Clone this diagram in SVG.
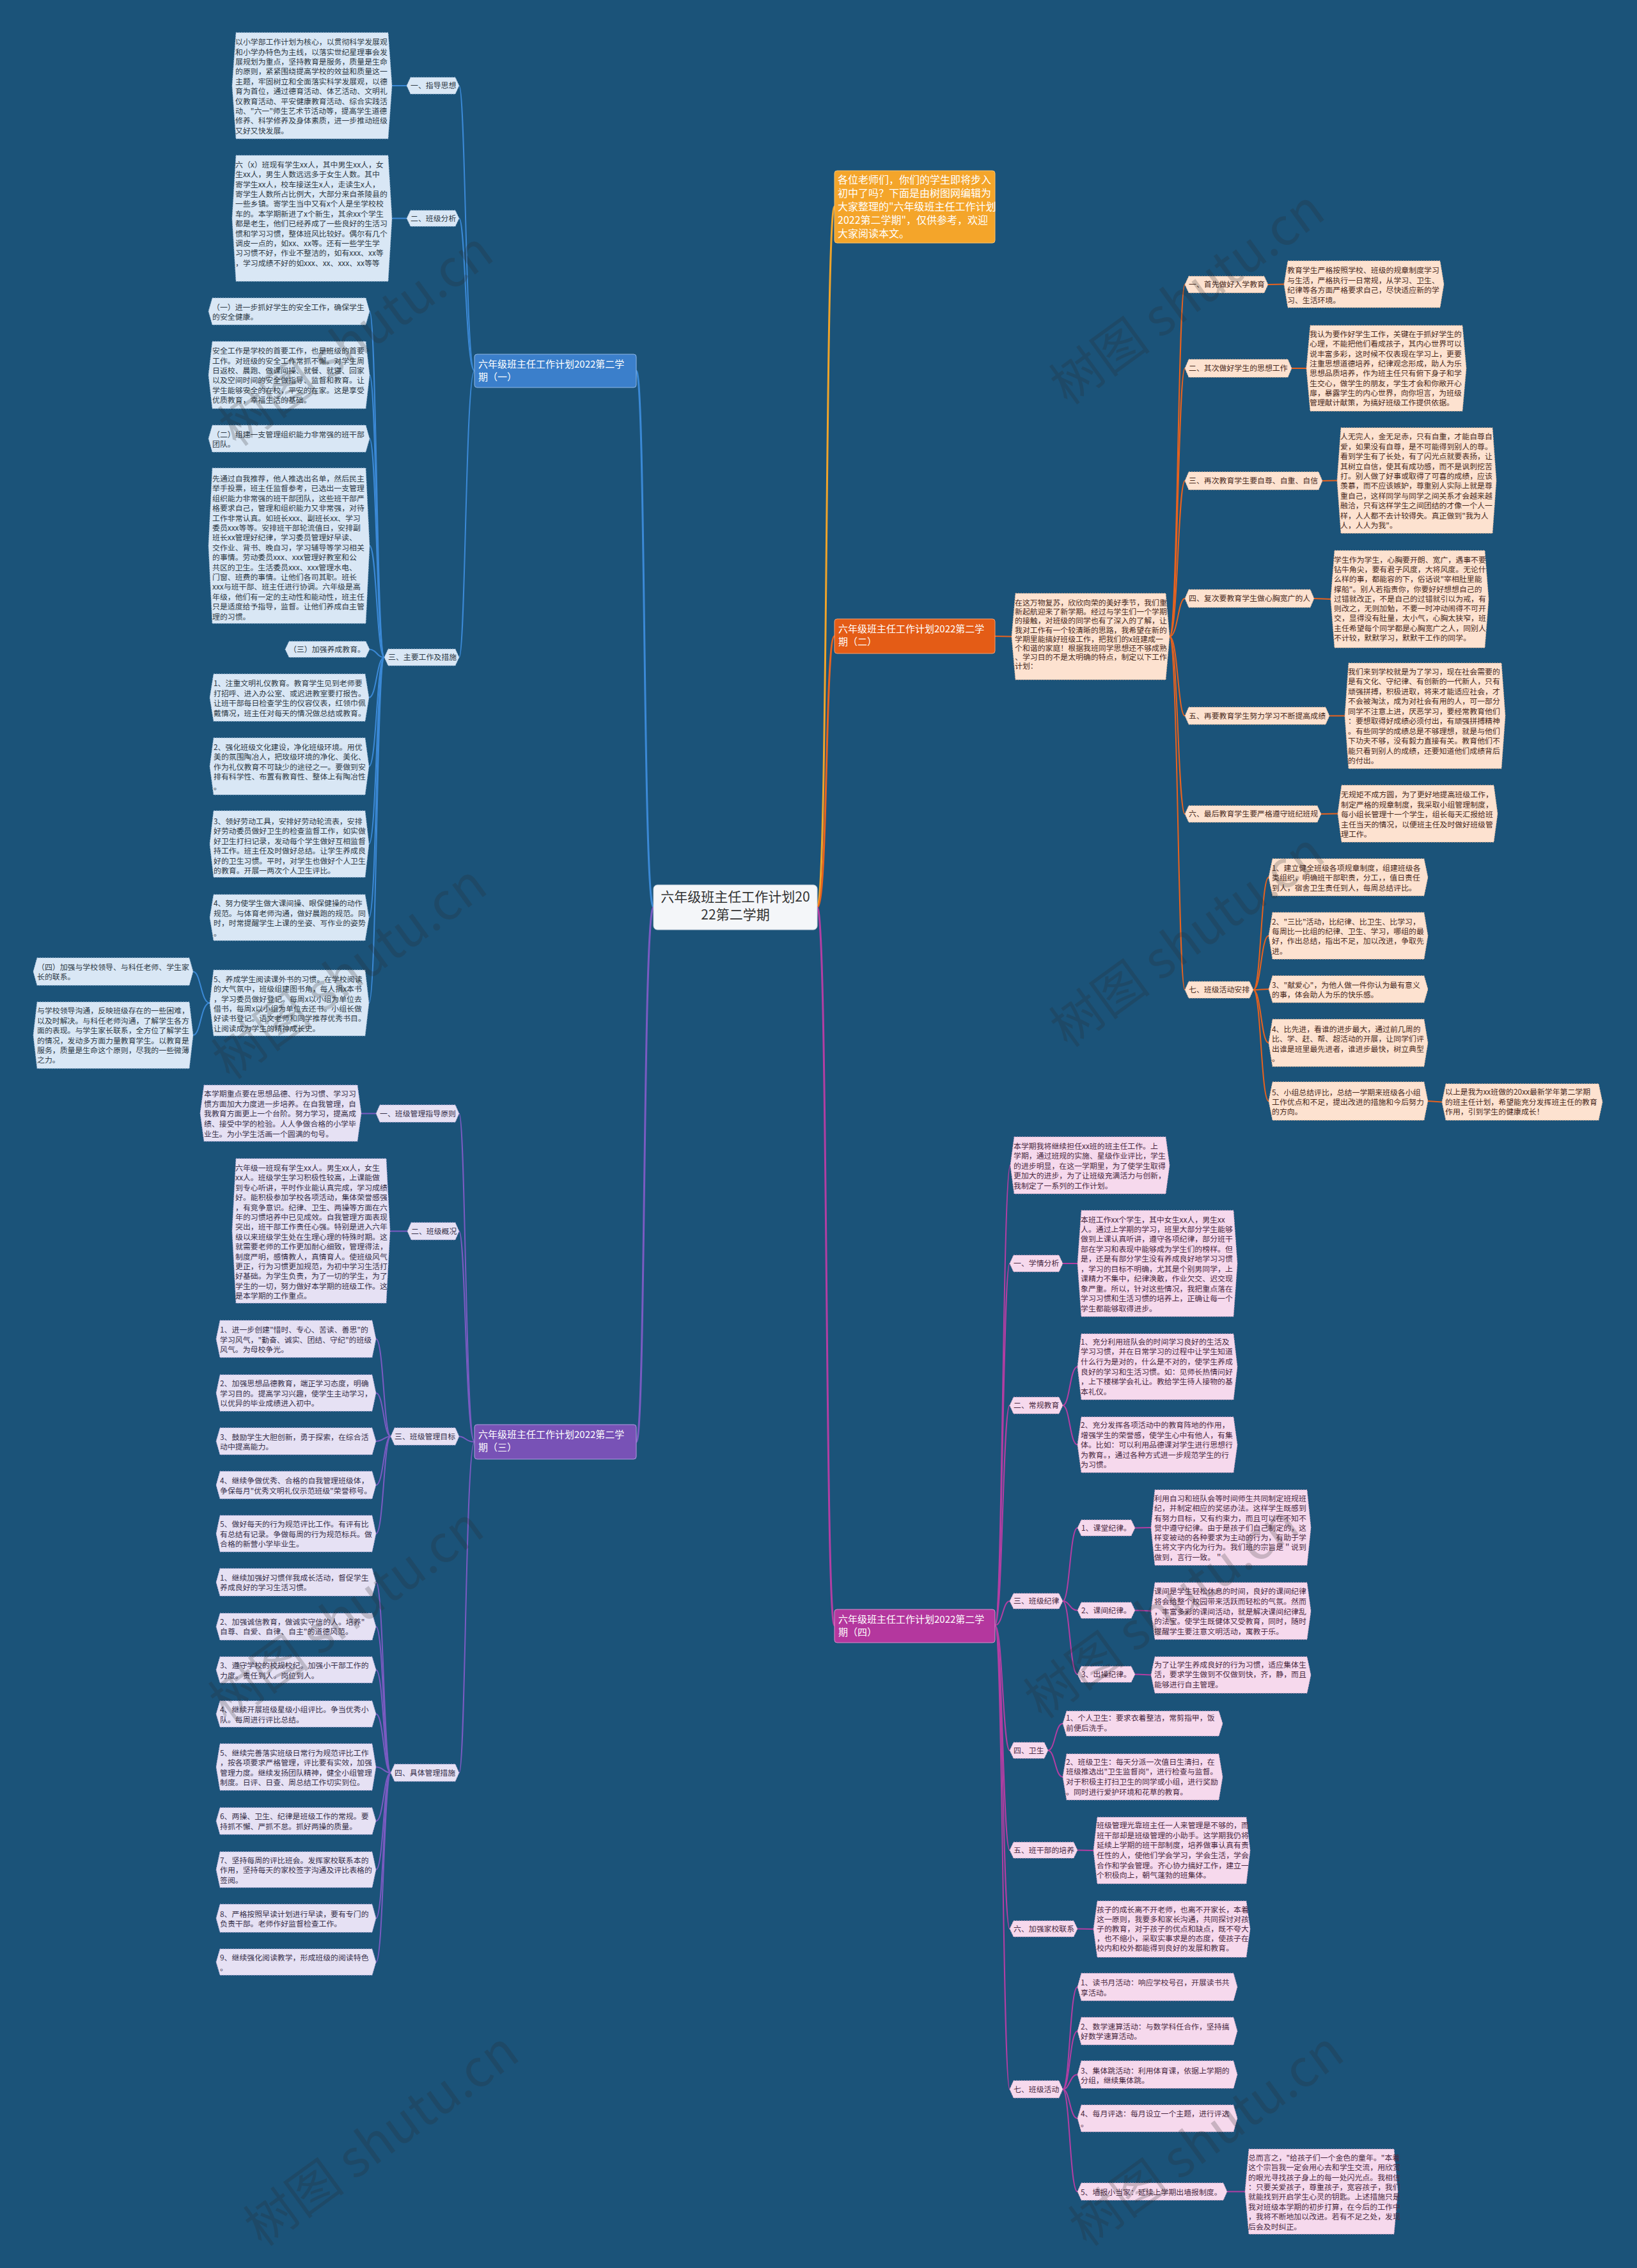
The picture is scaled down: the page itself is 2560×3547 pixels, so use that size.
<svg xmlns="http://www.w3.org/2000/svg" width="2560" height="3547" viewBox="0 0 2560 3547">
<style>
text{font-family:"Noto Sans CJK SC","Noto Sans",sans-serif;font-size:11.9px}
.tb{fill:#2e3a46}.to{fill:#4a2a1c}.tp{fill:#37304a}.tk{fill:#4a2a42}
.nb{fill:#d9e7f5;stroke:#9fb9d4;stroke-width:1;stroke-dasharray:2 2}
.no{fill:#fde2d0;stroke:#e8b79a;stroke-width:1;stroke-dasharray:2 2}
.np{fill:#e6e1f4;stroke:#b3a8d6;stroke-width:1;stroke-dasharray:2 2}
.nk{fill:#f6d9ed;stroke:#d5a5c6;stroke-width:1;stroke-dasharray:2 2}
.cb{fill:none;stroke:#3b89d6;stroke-width:2}
.co{fill:none;stroke:#e8621e;stroke-width:2}
.cp{fill:none;stroke:#7a5bc2;stroke-width:2}
.ck{fill:none;stroke:#b33ea3;stroke-width:2}
.main{font-size:15px;fill:#ffffff}
.wm{font-size:80px;fill:#2a2a2a;opacity:0.22;font-family:"Noto Sans CJK SC","Noto Sans",sans-serif}
</style>
<rect x="0" y="0" width="2560" height="3547" fill="#1b5379"/>

<g id="connectors">
<path d="M1278,1419 C1295,1419 1290,323 1305,323" fill="none" stroke="#f0a42a" stroke-width="3"/>
<path d="M1278,1419 C1295,1419 1290,995 1305,995" fill="none" stroke="#e8621e" stroke-width="3"/>
<path d="M1278,1419 C1295,1419 1290,2542 1305,2542" fill="none" stroke="#b33ea3" stroke-width="3"/>
<path d="M1022,1419 C1005,1419 1010,580 995,580" fill="none" stroke="#3b89d6" stroke-width="3"/>
<path d="M1022,1419 C1005,1419 1010,2255 995,2255" fill="none" stroke="#7a5bc2" stroke-width="3"/>

<path class="cb" d="M742,580 C728,580 728,134 718,134"/>
<path class="cb" d="M742,580 C728,580 728,341.5 718,341.5"/>
<path class="cb" d="M742,580 C728,580 728,1028 718,1028"/>
<path class="cb" d="M636,134 L613,134"/>
<path class="cb" d="M636,341.5 L613,341.5"/>
<path class="cb" d="M601,1028 C589,1028 589,487 578,487"/>
<path class="cb" d="M601,1028 C589,1028 589,586.5 578,586.5"/>
<path class="cb" d="M601,1028 C589,1028 589,686 578,686"/>
<path class="cb" d="M601,1028 C589,1028 589,853.5 578,853.5"/>
<path class="cb" d="M601,1028 C589,1028 589,1015.5 578,1015.5"/>
<path class="cb" d="M601,1028 C589,1028 589,1091 577,1091"/>
<path class="cb" d="M601,1028 C589,1028 589,1198.5 577,1198.5"/>
<path class="cb" d="M601,1028 C589,1028 589,1320 577,1320"/>
<path class="cb" d="M601,1028 C589,1028 589,1435 577,1435"/>
<path class="cb" d="M601,1028 C589,1028 589,1568.5 577,1568.5"/>
<path class="cb" d="M328,1568.5 C314,1568.5 314,1519.5 302,1519.5"/>
<path class="cb" d="M328,1568.5 C314,1568.5 314,1619 302,1619"/>

<path class="cp" d="M742,2255 C728,2255 728,1741.5 718,1741.5"/>
<path class="cp" d="M742,2255 C728,2255 728,1925.5 718,1925.5"/>
<path class="cp" d="M742,2255 C728,2255 728,2246.5 718,2246.5"/>
<path class="cp" d="M742,2255 C728,2255 728,2772.5 718,2772.5"/>
<path class="cp" d="M588,1741.5 L565,1741.5"/>
<path class="cp" d="M637,1925.5 L610,1925.5"/>
<path class="cp" d="M611,2246.5 C600,2246.5 600,2094 588,2094"/>
<path class="cp" d="M611,2246.5 C600,2246.5 600,2178.5 588,2178.5"/>
<path class="cp" d="M611,2246.5 C600,2246.5 600,2254 588,2254"/>
<path class="cp" d="M611,2246.5 C600,2246.5 600,2322.5 588,2322.5"/>
<path class="cp" d="M611,2246.5 C600,2246.5 600,2398.5 588,2398.5"/>
<path class="cp" d="M611,2772.5 C600,2772.5 600,2474.5 588,2474.5"/>
<path class="cp" d="M611,2772.5 C600,2772.5 600,2544 588,2544"/>
<path class="cp" d="M611,2772.5 C600,2772.5 600,2611.5 588,2611.5"/>
<path class="cp" d="M611,2772.5 C600,2772.5 600,2680.5 588,2680.5"/>
<path class="cp" d="M611,2772.5 C600,2772.5 600,2763.5 588,2763.5"/>
<path class="cp" d="M611,2772.5 C600,2772.5 600,2848 588,2848"/>
<path class="cp" d="M611,2772.5 C600,2772.5 600,2924 588,2924"/>
<path class="cp" d="M611,2772.5 C600,2772.5 600,3000 588,3000"/>
<path class="cp" d="M611,2772.5 C600,2772.5 600,3068.5 588,3068.5"/>

<path class="co" d="M1556,995 L1582,995.5"/>
<path class="co" d="M1829,995.5 C1842,995.5 1842,445 1853,445"/>
<path class="co" d="M1829,995.5 C1842,995.5 1842,576 1853,576"/>
<path class="co" d="M1829,995.5 C1842,995.5 1842,752 1853,752"/>
<path class="co" d="M1829,995.5 C1842,995.5 1842,936 1853,936"/>
<path class="co" d="M1829,995.5 C1842,995.5 1842,1119.5 1853,1119.5"/>
<path class="co" d="M1829,995.5 C1842,995.5 1842,1273 1853,1273"/>
<path class="co" d="M1829,995.5 C1842,995.5 1842,1548 1853,1548"/>
<path class="co" d="M1983,445 L2008,444.5"/>
<path class="co" d="M2020,576 L2043,576"/>
<path class="co" d="M2068,752 L2091,751.5"/>
<path class="co" d="M2055,936 L2081,937"/>
<path class="co" d="M2079,1119.5 L2103,1119.5"/>
<path class="co" d="M2066,1273 L2092,1272.5"/>
<path class="co" d="M1960,1548 C1972,1548 1972,1372 1984,1372"/>
<path class="co" d="M1960,1548 C1972,1548 1972,1463.5 1984,1463.5"/>
<path class="co" d="M1960,1548 C1972,1548 1972,1547 1984,1547"/>
<path class="co" d="M1960,1548 C1972,1548 1972,1631 1984,1631"/>
<path class="co" d="M1960,1548 C1972,1548 1972,1722 1984,1722"/>
<path class="co" d="M2233,1722 L2255,1723.5"/>

<path class="ck" d="M1556,2542 C1568,2542 1568,1822.5 1580,1822.5"/>
<path class="ck" d="M1556,2542 C1568,2542 1568,1976 1579,1976"/>
<path class="ck" d="M1556,2542 C1568,2542 1568,2198 1579,2198"/>
<path class="ck" d="M1556,2542 C1568,2542 1568,2504 1579,2504"/>
<path class="ck" d="M1556,2542 C1568,2542 1568,2737.5 1579,2737.5"/>
<path class="ck" d="M1556,2542 C1568,2542 1568,2893.5 1579,2893.5"/>
<path class="ck" d="M1556,2542 C1568,2542 1568,3016.5 1579,3016.5"/>
<path class="ck" d="M1556,2542 C1568,2542 1568,3267.5 1579,3267.5"/>
<path class="ck" d="M1662,1976 L1685,1976"/>
<path class="ck" d="M1662,2198 C1673,2198 1673,2137.5 1685,2137.5"/>
<path class="ck" d="M1662,2198 C1673,2198 1673,2259.5 1685,2259.5"/>
<path class="ck" d="M1662,2504 C1673,2504 1673,2389.5 1685,2389.5"/>
<path class="ck" d="M1662,2504 C1673,2504 1673,2518.5 1685,2518.5"/>
<path class="ck" d="M1662,2504 C1673,2504 1673,2618.5 1685,2618.5"/>
<path class="ck" d="M1775,2389.5 L1800,2389"/>
<path class="ck" d="M1775,2518.5 L1800,2519.5"/>
<path class="ck" d="M1775,2618.5 L1800,2619.5"/>
<path class="ck" d="M1639,2737.5 C1650,2737.5 1650,2695.5 1662,2695.5"/>
<path class="ck" d="M1639,2737.5 C1650,2737.5 1650,2779 1662,2779"/>
<path class="ck" d="M1685,2893.5 L1710,2894"/>
<path class="ck" d="M1685,3016.5 L1710,3017"/>
<path class="ck" d="M1662,3267.5 C1673,3267.5 1673,3107.5 1685,3107.5"/>
<path class="ck" d="M1662,3267.5 C1673,3267.5 1673,3176.5 1685,3176.5"/>
<path class="ck" d="M1662,3267.5 C1673,3267.5 1673,3244.5 1685,3244.5"/>
<path class="ck" d="M1662,3267.5 C1673,3267.5 1673,3313 1685,3313"/>
<path class="ck" d="M1662,3267.5 C1673,3267.5 1673,3427.5 1685,3427.5"/>
<path class="ck" d="M1919,3427.5 L1947,3427.5"/>
</g>

<g id="center">
<rect x="1022" y="1384" width="256" height="70" rx="6" fill="#f4f6f9" stroke="#c9d3de" stroke-width="1"/>
<text x="1150" y="1410" text-anchor="middle" style="font-size:21px;fill:#333">六年级班主任工作计划20</text>
<text x="1150" y="1438" text-anchor="middle" style="font-size:21px;fill:#333">22第二学期</text>
</g>

<g id="intro">
<rect x="1305" y="267" width="251" height="113" rx="4" fill="#f4a52a" stroke="#f8c26e" stroke-width="1"/>
<text style="font-size:16px;fill:#ffffff" y="287"><tspan x="1310">各位老师们，你们的学生即将步入</tspan><tspan x="1310" dy="21">初中了吗？下面是由树图网编辑为</tspan><tspan x="1310" dy="21">大家整理的"六年级班主任工作计划</tspan><tspan x="1310" dy="21">2022第二学期"，仅供参考，欢迎</tspan><tspan x="1310" dy="21">大家阅读本文。</tspan></text>
</g>

<g id="b1">
<rect x="742" y="554" width="253" height="52" rx="4" fill="#3b7fcb" stroke="#8fb8e6" stroke-width="1"/>
<text class="main" y="575"><tspan x="748">六年级班主任工作计划2022第二学</tspan><tspan x="748" dy="20">期（一）</tspan></text>
</g>
<g id="b1-1">
<polygon class="nb" points="642,121 712,121 718,134 712,147 642,147 636,134"/>
<text class="tb" x="642" y="138.4">一、指导思想</text>
</g>
<g id="b1-1-t">
<polygon class="nb" points="369,51 607,51 613,134 607,217 369,217 363,134"/>
<text class="tb" y="70.1"><tspan x="368">以小学部工作计划为核心，以贯彻科学发展观</tspan><tspan x="368" dy="15.4">和小学办特色为主线，以落实世纪星理事会发</tspan><tspan x="368" dy="15.4">展规划为重点，坚持教育是服务，质量是生命</tspan><tspan x="368" dy="15.4">的原则，紧紧围绕提高学校的效益和质量这一</tspan><tspan x="368" dy="15.4">主题，牢固树立和全面落实科学发展观，以德</tspan><tspan x="368" dy="15.4">育为首位，通过德育活动、体艺活动、文明礼</tspan><tspan x="368" dy="15.4">仪教育活动、平安健康教育活动、综合实践活</tspan><tspan x="368" dy="15.4">动、"六一"师生艺术节活动等，提高学生道德</tspan><tspan x="368" dy="15.4">修养、科学修养及身体素质，进一步推动班级</tspan><tspan x="368" dy="15.4">又好又快发展。</tspan></text>
</g>
<g id="b1-2">
<polygon class="nb" points="642,329 712,329 718,341.5 712,354 642,354 636,341.5"/>
<text class="tb" x="642" y="345.9">二、班级分析</text>
</g>
<g id="b1-2-t">
<polygon class="nb" points="369,243 607,243 613,341.5 607,440 369,440 363,341.5"/>
<text class="tb" y="261.7"><tspan x="368">六（x）班现有学生xx人，其中男生xx人，女</tspan><tspan x="368" dy="15.4">生xx人，男生人数远远多于女生人数。其中</tspan><tspan x="368" dy="15.4">寄学生xx人，校车接送生x人，走读生x人，</tspan><tspan x="368" dy="15.4">寄学生人数所占比例大，大部分来自茶陵县的</tspan><tspan x="368" dy="15.4">一些乡镇。寄学生当中又有x个人是坐学校校</tspan><tspan x="368" dy="15.4">车的。本学期新进了x个新生，其余xx个学生</tspan><tspan x="368" dy="15.4">都是老生，他们已经养成了一些良好的生活习</tspan><tspan x="368" dy="15.4">惯和学习习惯，整体班风比较好。偶尔有几个</tspan><tspan x="368" dy="15.4">调皮一点的，如xx、xx等。还有一些学生学</tspan><tspan x="368" dy="15.4">习习惯不好，作业不整洁的，如有xxx、xx等</tspan><tspan x="368" dy="15.4">，学习成绩不好的如xxx、xx、xxx、xx等等</tspan></text>
</g>
<g id="b1-3">
<polygon class="nb" points="607,1015 712,1015 718,1028 712,1041 607,1041 601,1028"/>
<text class="tb" x="607" y="1032.4">三、主要工作及措施</text>
</g>
<g id="b1-3-1">
<polygon class="nb" points="332,466 572,466 578,487 572,508 332,508 326,487"/>
<text class="tb" y="484.6"><tspan x="332">（一）进一步抓好学生的安全工作，确保学生</tspan><tspan x="332" dy="15.4">的安全健康。</tspan></text>
</g>
<g id="b1-3-2">
<polygon class="nb" points="332,534 572,534 578,586.5 572,639 332,639 326,586.5"/>
<text class="tb" y="553.4"><tspan x="332">安全工作是学校的首要工作，也是班级的首要</tspan><tspan x="332" dy="15.35">工作。对班级的安全工作常抓不懈。对学生周</tspan><tspan x="332" dy="15.35">日返校、晨跑、做课间操、就餐、就寝、回家</tspan><tspan x="332" dy="15.35">以及空间时间的安全做指导、监督和教育。让</tspan><tspan x="332" dy="15.35">学生能够安全的在校，平安的在家。这是享受</tspan><tspan x="332" dy="15.35">优质教育，幸福生活的基础。</tspan></text>
</g>
<g id="b1-3-3">
<polygon class="nb" points="332,665 572,665 578,686 572,707 332,707 326,686"/>
<text class="tb" y="684"><tspan x="332">（二）组建一支管理组织能力非常强的班干部</tspan><tspan x="332" dy="15.2">团队。</tspan></text>
</g>
<g id="b1-3-4">
<polygon class="nb" points="332,732 572,732 578,853.5 572,975 332,975 326,853.5"/>
<text class="tb" y="752.9"><tspan x="332">先通过自我推荐，他人推选出名单，然后民主</tspan><tspan x="332" dy="15.4">举手投票，班主任监督参考，已选出一支管理</tspan><tspan x="332" dy="15.4">组织能力非常强的班干部团队，这些班干部严</tspan><tspan x="332" dy="15.4">格要求自己，管理和组织能力又非常强，对待</tspan><tspan x="332" dy="15.4">工作非常认真。如班长xxx、副班长xx、学习</tspan><tspan x="332" dy="15.4">委员xxx等等。安排班干部轮流值日，安排副</tspan><tspan x="332" dy="15.4">班长xx管理好纪律，学习委员管理好早读、</tspan><tspan x="332" dy="15.4">交作业、背书、晚自习，学习辅导等学习相关</tspan><tspan x="332" dy="15.4">的事情。劳动委员xxx、xxx管理好教室和公</tspan><tspan x="332" dy="15.4">共区的卫生。生活委员xxx、xxx管理水电、</tspan><tspan x="332" dy="15.4">门窗、班费的事情。让他们各司其职。班长</tspan><tspan x="332" dy="15.4">xxx与班干部、班主任进行协调。六年级是高</tspan><tspan x="332" dy="15.4">年级，他们有一定的主动性和能动性，班主任</tspan><tspan x="332" dy="15.4">只是适度给予指导，监督。让他们养成自主管</tspan><tspan x="332" dy="15.4">理的习惯。</tspan></text>
</g>
<g id="b1-3-5">
<polygon class="nb" points="452,1003 572,1003 578,1015.5 572,1028 452,1028 446,1015.5"/>
<text class="tb" x="452" y="1019.9">（三）加强养成教育。</text>
</g>
<g id="b1-3-6">
<polygon class="nb" points="334,1054 571,1054 577,1091 571,1128 334,1128 328,1091"/>
<text class="tb" y="1073.4"><tspan x="334">1、注重文明礼仪教育。教育学生见到老师要</tspan><tspan x="334" dy="15.4">打招呼、进入办公室、或迟进教室要打报告。</tspan><tspan x="334" dy="15.4">让班干部每日检查学生的仪容仪表，红领巾佩</tspan><tspan x="334" dy="15.4">戴情况，班主任对每天的情况做总结或教育。</tspan></text>
</g>
<g id="b1-3-7">
<polygon class="nb" points="334,1154 571,1154 577,1198.5 571,1243 334,1243 328,1198.5"/>
<text class="tb" y="1172.9"><tspan x="334">2、强化班级文化建设，净化班级环境。用优</tspan><tspan x="334" dy="15.4">美的氛围陶冶人，把玫级环境的净化、美化、</tspan><tspan x="334" dy="15.4">作为礼仪教育不可缺少的途径之一。要做到安</tspan><tspan x="334" dy="15.4">排有科学性、布置有教育性、整体上有陶冶性</tspan><tspan x="334" dy="15.4">。</tspan></text>
</g>
<g id="b1-3-8">
<polygon class="nb" points="334,1268 571,1268 577,1320 571,1372 334,1372 328,1320"/>
<text class="tb" y="1289"><tspan x="334">3、领好劳动工具，安排好劳动轮流表，安排</tspan><tspan x="334" dy="15.4">好劳动委员做好卫生的检查监督工作，如实做</tspan><tspan x="334" dy="15.4">好卫生打扫记录，发动每个学生做好互相监督</tspan><tspan x="334" dy="15.4">持工作。班主任及时做好总结。让学生养成良</tspan><tspan x="334" dy="15.4">好的卫生习惯。平时，对学生也做好个人卫生</tspan><tspan x="334" dy="15.4">的教育。开展一两次个人卫生评比。</tspan></text>
</g>
<g id="b1-3-9">
<polygon class="nb" points="334,1399 571,1399 577,1435 571,1471 334,1471 328,1435"/>
<text class="tb" y="1417.4"><tspan x="334">4、努力使学生做大课间操、眼保健操的动作</tspan><tspan x="334" dy="15.4">规范。与体育老师沟通，做好晨跑的规范。同</tspan><tspan x="334" dy="15.4">时，时常提醒学生上课的坐姿、写作业的姿势</tspan><tspan x="334" dy="15.4">。</tspan></text>
</g>
<g id="b1-3-10">
<polygon class="nb" points="334,1517 571,1517 577,1568.5 571,1620 334,1620 328,1568.5"/>
<text class="tb" y="1535.7"><tspan x="334">5、养成学生阅读课外书的习惯。在学校阅读</tspan><tspan x="334" dy="15.4">的大气氛中，班级组建图书角，每人捐x本书</tspan><tspan x="334" dy="15.4">，学习委员做好登记。每周x以小组为单位去</tspan><tspan x="334" dy="15.4">借书，每周x以小组为单位去还书。小组长做</tspan><tspan x="334" dy="15.4">好读书登记。语文老师和同学推荐优秀书目。</tspan><tspan x="334" dy="15.4">让阅读成为学生的精神成长史。</tspan></text>
</g>
<g id="b1-3-10-1">
<polygon class="nb" points="58,1498 296,1498 302,1519.5 296,1541 58,1541 52,1519.5"/>
<text class="tb" y="1517"><tspan x="58">（四）加强与学校领导、与科任老师、学生家</tspan><tspan x="58" dy="15.4">长的联系。</tspan></text>
</g>
<g id="b1-3-10-2">
<polygon class="nb" points="58,1567 296,1567 302,1619 296,1671 58,1671 52,1619"/>
<text class="tb" y="1585.4"><tspan x="58">与学校领导沟通，反映班级存在的一些困难，</tspan><tspan x="58" dy="15.4">以及时解决。与科任老师沟通，了解学生各方</tspan><tspan x="58" dy="15.4">面的表现。与学生家长联系，全方位了解学生</tspan><tspan x="58" dy="15.4">的情况，发动多方面力量教育学生。以教育是</tspan><tspan x="58" dy="15.4">服务，质量是生命这个原则，尽我的一些微薄</tspan><tspan x="58" dy="15.4">之力。</tspan></text>
</g>

<g id="b3">
<rect x="742" y="2228" width="253" height="54" rx="4" fill="#7852b6" stroke="#b19be0" stroke-width="1"/>
<text class="main" y="2249"><tspan x="748">六年级班主任工作计划2022第二学</tspan><tspan x="748" dy="20">期（三）</tspan></text>
</g>
<g id="b3-1">
<polygon class="np" points="594,1728 712,1728 718,1741.5 712,1755 594,1755 588,1741.5"/>
<text class="tp" x="594" y="1745.9">一、班级管理指导原则</text>
</g>
<g id="b3-1-t">
<polygon class="np" points="319,1697 559,1697 565,1741 559,1785 319,1785 313,1741"/>
<text class="tp" y="1715.1"><tspan x="319">本学期重点要在思想品德、行为习惯、学习习</tspan><tspan x="319" dy="15.6">惯方面加大力度进一步培养。在自我管理，自</tspan><tspan x="319" dy="15.6">我教育方面更上一个台阶。努力学习，提高成</tspan><tspan x="319" dy="15.6">绩、接受中学的检验。人人争做合格的小学毕</tspan><tspan x="319" dy="15.6">业生。为小学生活画一个圆满的句号。</tspan></text>
</g>
<g id="b3-2">
<polygon class="np" points="643,1912 712,1912 718,1925.5 712,1939 643,1939 637,1925.5"/>
<text class="tp" x="643" y="1929.9">二、班级概况</text>
</g>
<g id="b3-2-t">
<polygon class="np" points="369,1812 604,1812 610,1925 604,2038 369,2038 363,1925"/>
<text class="tp" y="1831.1"><tspan x="368">六年级一班现有学生xx人。男生xx人，女生</tspan><tspan x="368" dy="15.38">xx人。班级学生学习积极性较高，上课能做</tspan><tspan x="368" dy="15.38">到专心听讲，平时作业能认真完成，学习成绩</tspan><tspan x="368" dy="15.38">好。能积极参加学校各项活动，集体荣誉感强</tspan><tspan x="368" dy="15.38">，有竞争意识。纪律、卫生、两操等方面在六</tspan><tspan x="368" dy="15.38">年的习惯培养中已见成效。自我管理方面表现</tspan><tspan x="368" dy="15.38">突出，班干部工作责任心强。特别是进入六年</tspan><tspan x="368" dy="15.38">级以来班级学生处在生理心理的特殊时期。这</tspan><tspan x="368" dy="15.38">就需要老师的工作更加耐心细致，管理得法，</tspan><tspan x="368" dy="15.38">制度严明，感情教人，真情育人。使班级风气</tspan><tspan x="368" dy="15.38">更正，行为习惯更加规范，为初中学习生活打</tspan><tspan x="368" dy="15.38">好基础。为学生负责，为了一切的学生，为了</tspan><tspan x="368" dy="15.38">学生的一切，努力做好本学期的班级工作。这</tspan><tspan x="368" dy="15.38">是本学期的工作重点。</tspan></text>
</g>
<g id="b3-3">
<polygon class="np" points="617,2233 712,2233 718,2246.5 712,2260 617,2260 611,2246.5"/>
<text class="tp" x="617" y="2250.9">三、班级管理目标</text>
</g>
<g id="b3-3-1">
<polygon class="np" points="344,2065 582,2065 588,2094 582,2123 344,2123 338,2094"/>
<text class="tp" y="2084.1"><tspan x="344">1、进一步创建"惜时、专心、苦读、善思"的</tspan><tspan x="344" dy="15.5">学习风气，"勤奋、诚实、团结、守纪"的班级</tspan><tspan x="344" dy="15.5">风气。为母校争光。</tspan></text>
</g>
<g id="b3-3-2">
<polygon class="np" points="344,2150 582,2150 588,2178.5 582,2207 344,2207 338,2178.5"/>
<text class="tp" y="2168.1"><tspan x="344">2、加强思想品德教育，端正学习态度，明确</tspan><tspan x="344" dy="15.5">学习目的。提高学习兴趣，使学生主动学习，</tspan><tspan x="344" dy="15.5">以优异的毕业成绩进入初中。</tspan></text>
</g>
<g id="b3-3-3">
<polygon class="np" points="344,2233 582,2233 588,2254 582,2275 344,2275 338,2254"/>
<text class="tp" y="2251.7"><tspan x="344">3、鼓励学生大胆创新，勇于探索，在综合活</tspan><tspan x="344" dy="15.5">动中提高能力。</tspan></text>
</g>
<g id="b3-3-4">
<polygon class="np" points="344,2301 582,2301 588,2322.5 582,2344 344,2344 338,2322.5"/>
<text class="tp" y="2320.1"><tspan x="344">4、继续争做优秀、合格的自我管理班级体，</tspan><tspan x="344" dy="15.5">争保每月"优秀文明礼仪示范班级"荣誉称号。</tspan></text>
</g>
<g id="b3-3-5">
<polygon class="np" points="344,2370 582,2370 588,2398.5 582,2427 344,2427 338,2398.5"/>
<text class="tp" y="2388.4"><tspan x="344">5、做好每天的行为规范评比工作。有评有比</tspan><tspan x="344" dy="15.5">有总结有记录。争做每周的行为规范标兵。做</tspan><tspan x="344" dy="15.5">合格的新营小学毕业生。</tspan></text>
</g>
<g id="b3-4">
<polygon class="np" points="617,2759 712,2759 718,2772.5 712,2786 617,2786 611,2772.5"/>
<text class="tp" x="617" y="2776.9">四、具体管理措施</text>
</g>
<g id="b3-4-1">
<polygon class="np" points="344,2453 582,2453 588,2474.5 582,2496 344,2496 338,2474.5"/>
<text class="tp" y="2471.7"><tspan x="344">1、继续加强好习惯伴我成长活动，督促学生</tspan><tspan x="344" dy="15.5">养成良好的学习生活习惯。</tspan></text>
</g>
<g id="b3-4-2">
<polygon class="np" points="344,2523 582,2523 588,2544 582,2565 344,2565 338,2544"/>
<text class="tp" y="2540.7"><tspan x="344">2、加强诚信教育，做诚实守信的人。培养"</tspan><tspan x="344" dy="15.5">自尊、自爱、自律、自主"的道德风范。</tspan></text>
</g>
<g id="b3-4-3">
<polygon class="np" points="344,2591 582,2591 588,2611.5 582,2632 344,2632 338,2611.5"/>
<text class="tp" y="2609.2"><tspan x="344">3、遵守学校的校规校纪。加强小干部工作的</tspan><tspan x="344" dy="15.5">力度。责任到人。岗位到人。</tspan></text>
</g>
<g id="b3-4-4">
<polygon class="np" points="344,2660 582,2660 588,2680.5 582,2701 344,2701 338,2680.5"/>
<text class="tp" y="2678.1"><tspan x="344">4、继续开展班级星级小组评比。争当优秀小</tspan><tspan x="344" dy="15.5">队。每周进行评比总结。</tspan></text>
</g>
<g id="b3-4-5">
<polygon class="np" points="344,2727 582,2727 588,2763.5 582,2800 344,2800 338,2763.5"/>
<text class="tp" y="2745.8"><tspan x="344">5、继续完善落实班级日常行为规范评比工作</tspan><tspan x="344" dy="15.4">，按各项要求严格管理，评比要有实效，加强</tspan><tspan x="344" dy="15.4">管理力度。继续发扬团队精神，健全小组管理</tspan><tspan x="344" dy="15.4">制度。日评、日查、周总结工作切实到位。</tspan></text>
</g>
<g id="b3-4-6">
<polygon class="np" points="344,2827 582,2827 588,2848 582,2869 344,2869 338,2848"/>
<text class="tp" y="2845.4"><tspan x="344">6、两操、卫生、纪律是班级工作的常规。要</tspan><tspan x="344" dy="15.5">持抓不懈、严抓不怠。抓好两操的质量。</tspan></text>
</g>
<g id="b3-4-7">
<polygon class="np" points="344,2896 582,2896 588,2924 582,2952 344,2952 338,2924"/>
<text class="tp" y="2913.9"><tspan x="344">7、坚持每周的评比班会。发挥家校联系本的</tspan><tspan x="344" dy="15.5">作用，坚持每天的家校签字沟通及评比表格的</tspan><tspan x="344" dy="15.5">签阅。</tspan></text>
</g>
<g id="b3-4-8">
<polygon class="np" points="344,2978 582,2978 588,3000 582,3022 344,3022 338,3000"/>
<text class="tp" y="2997.8"><tspan x="344">8、严格按照早读计划进行早读，要有专门的</tspan><tspan x="344" dy="15.5">负责干部。老师作好监督检查工作。</tspan></text>
</g>
<g id="b3-4-9">
<polygon class="np" points="344,3048 582,3048 588,3068.5 582,3089 344,3089 338,3068.5"/>
<text class="tp" y="3066.4"><tspan x="344">9、继续强化阅读教学，形成班级的阅读特色</tspan><tspan x="344" dy="15.5">。</tspan></text>
</g>

<g id="b2">
<rect x="1305" y="968" width="251" height="54" rx="4" fill="#e45c16" stroke="#f5a070" stroke-width="1"/>
<text class="main" y="989"><tspan x="1311">六年级班主任工作计划2022第二学</tspan><tspan x="1311" dy="20">期（二）</tspan></text>
</g>
<g id="b2-0">
<polygon class="no" points="1588,928 1823,928 1829,995.5 1823,1063 1588,1063 1582,995.5"/>
<text class="to" y="947.1"><tspan x="1587">在这万物复苏，欣欣向荣的美好季节，我们重</tspan><tspan x="1587" dy="14.15">新起航迎来了新学期。经过与学生们一个学期</tspan><tspan x="1587" dy="14.15">的接触，对班级的同学也有了深入的了解，让</tspan><tspan x="1587" dy="14.15">我对工作有一个较清晰的思路，我希望在新的</tspan><tspan x="1587" dy="14.15">学期里能搞好班级工作，把我们的x班建成一</tspan><tspan x="1587" dy="14.15">个和谐的家庭！根据我班同学思想还不够成熟</tspan><tspan x="1587" dy="14.15">、学习目的不是太明确的特点，制定以下工作</tspan><tspan x="1587" dy="14.15">计划：</tspan></text>
</g>
<g id="b2-1">
<polygon class="no" points="1859,432 1977,432 1983,445 1977,458 1859,458 1853,445"/>
<text class="to" x="1859" y="449.4">一、首先做好入学教育</text>
</g>
<g id="b2-1-t">
<polygon class="no" points="2014,408 2252,408 2258,444.5 2252,481 2014,481 2008,444.5"/>
<text class="to" y="427.3"><tspan x="2013">教育学生严格按照学校、班级的规章制度学习</tspan><tspan x="2013" dy="15.4">与生活，严格执行一日常规，从学习、卫生、</tspan><tspan x="2013" dy="15.4">纪律等各方面严格要求自己，尽快适应新的学</tspan><tspan x="2013" dy="15.4">习、生活环境。</tspan></text>
</g>
<g id="b2-2">
<polygon class="no" points="1859,562 2014,562 2020,576 2014,590 1859,590 1853,576"/>
<text class="to" x="1859" y="580.4">二、其次做好学生的思想工作</text>
</g>
<g id="b2-2-t">
<polygon class="no" points="2049,509 2287,509 2293,576 2287,643 2049,643 2043,576"/>
<text class="to" y="526.9"><tspan x="2048">我认为要作好学生工作，关键在于抓好学生的</tspan><tspan x="2048" dy="15.36">心理，不能把他们看成孩子，其内心世界可以</tspan><tspan x="2048" dy="15.36">说丰富多彩，这时候不仅表现在学习上，更要</tspan><tspan x="2048" dy="15.36">注重思想道德培养，纪律观念形成，助人为乐</tspan><tspan x="2048" dy="15.36">思想品质培养，作为班主任只有俯下身子和学</tspan><tspan x="2048" dy="15.36">生交心，做学生的朋友，学生才会和你敞开心</tspan><tspan x="2048" dy="15.36">扉，暴露学生的内心世界，向你坦言，为班级</tspan><tspan x="2048" dy="15.36">管理献计献策，为搞好班级工作提供依据。</tspan></text>
</g>
<g id="b2-3">
<polygon class="no" points="1859,738 2062,738 2068,752 2062,766 1859,766 1853,752"/>
<text class="to" x="1859" y="756.4">三、再次教育学生要自尊、自重、自信</text>
</g>
<g id="b2-3-t">
<polygon class="no" points="2097,669 2334,669 2340,751.5 2334,834 2097,834 2091,751.5"/>
<text class="to" y="687.1"><tspan x="2096">人无完人，金无足赤，只有自重，才能自尊自</tspan><tspan x="2096" dy="15.47">爱，如果没有自尊，是不可能得到别人的尊。</tspan><tspan x="2096" dy="15.47">看到学生有了长处，有了闪光点就要表扬，让</tspan><tspan x="2096" dy="15.47">其树立自信，使其有成功感，而不是讽刺挖苦</tspan><tspan x="2096" dy="15.47">打。别人做了好事或取得了可喜的成绩，应该</tspan><tspan x="2096" dy="15.47">羡慕，而不应该嫉妒，尊重别人实际上就是尊</tspan><tspan x="2096" dy="15.47">重自己，这样同学与同学之间关系才会越来越</tspan><tspan x="2096" dy="15.47">融洽，只有这样学生之间团结的才像一个人一</tspan><tspan x="2096" dy="15.47">样，人人都不去计较得失。真正做到"我为人</tspan><tspan x="2096" dy="15.47">人，人人为我"。</tspan></text>
</g>
<g id="b2-4">
<polygon class="no" points="1859,922 2049,922 2055,936 2049,950 1859,950 1853,936"/>
<text class="to" x="1859" y="940.4">四、复次要教育学生做心胸宽广的人</text>
</g>
<g id="b2-4-t">
<polygon class="no" points="2087,861 2322,861 2328,937 2322,1013 2087,1013 2081,937"/>
<text class="to" y="879.6"><tspan x="2086">学生作为学生，心胸要开朗、宽广，遇事不要</tspan><tspan x="2086" dy="15.3">钻牛角尖，要有君子风度，大将风度。无论什</tspan><tspan x="2086" dy="15.3">么样的事，都能容的下，俗话说"宰相肚里能</tspan><tspan x="2086" dy="15.3">撑船"。别人若指责你，你要好好想想自己的</tspan><tspan x="2086" dy="15.3">过错就改正，不是自己的过错就引以为戒，有</tspan><tspan x="2086" dy="15.3">则改之，无则加勉，不要一时冲动闹得不可开</tspan><tspan x="2086" dy="15.3">交，显得没有肚量，太小气，心胸太狭窄，班</tspan><tspan x="2086" dy="15.3">主任希望每个同学都是心胸宽广之人，同别人</tspan><tspan x="2086" dy="15.3">不计较，默默学习，默默干工作的同学。</tspan></text>
</g>
<g id="b2-5">
<polygon class="no" points="1859,1106 2073,1106 2079,1119.5 2073,1133 1859,1133 1853,1119.5"/>
<text class="to" x="1859" y="1123.9">五、再要教育学生努力学习不断提高成绩</text>
</g>
<g id="b2-5-t">
<polygon class="no" points="2109,1037 2348,1037 2354,1119.5 2348,1202 2109,1202 2103,1119.5"/>
<text class="to" y="1054.9"><tspan x="2108">我们来到学校就是为了学习，现在社会需要的</tspan><tspan x="2108" dy="15.5">是有文化、守纪律、有创新的一代新人，只有</tspan><tspan x="2108" dy="15.5">顽强拼搏，积极进取，将来才能适应社会，才</tspan><tspan x="2108" dy="15.5">不会被淘汰，成为对社会有用的人，可一部分</tspan><tspan x="2108" dy="15.5">同学不注意上进，厌恶学习，要经常教育他们</tspan><tspan x="2108" dy="15.5">：要想取得好成绩必须付出，有顽强拼搏精神</tspan><tspan x="2108" dy="15.5">。有些同学的成绩总是不够理想，就是与他们</tspan><tspan x="2108" dy="15.5">下功夫不够，没有毅力直接有关。教育他们不</tspan><tspan x="2108" dy="15.5">能只看到别人的成绩，还要知道他们成绩背后</tspan><tspan x="2108" dy="15.5">的付出。</tspan></text>
</g>
<g id="b2-6">
<polygon class="no" points="1859,1260 2060,1260 2066,1273 2060,1286 1859,1286 1853,1273"/>
<text class="to" x="1859" y="1277.4">六、最后教育学生要严格遵守班纪班规</text>
</g>
<g id="b2-6-t">
<polygon class="no" points="2098,1228 2336,1228 2342,1272.5 2336,1317 2098,1317 2092,1272.5"/>
<text class="to" y="1247.2"><tspan x="2097">无规矩不成方圆，为了更好地提高班级工作，</tspan><tspan x="2097" dy="15.55">制定严格的规章制度，我采取小组管理制度，</tspan><tspan x="2097" dy="15.55">每小组长管理十一个学生，组长每天汇报给班</tspan><tspan x="2097" dy="15.55">主任当天的情况，以便班主任及时做好班级管</tspan><tspan x="2097" dy="15.55">理工作。</tspan></text>
</g>
<g id="b2-7">
<polygon class="no" points="1859,1535 1954,1535 1960,1548 1954,1561 1859,1561 1853,1548"/>
<text class="to" x="1859" y="1552.4">七、班级活动安排</text>
</g>
<g id="b2-7-1">
<polygon class="no" points="1990,1343 2227,1343 2233,1372 2227,1401 1990,1401 1984,1372"/>
<text class="to" y="1361.9"><tspan x="1989">1、建立健全班级各项规章制度，组建班级各</tspan><tspan x="1989" dy="15.4">类组织，明确班干部职责，分工，，值日责任</tspan><tspan x="1989" dy="15.4">到人，宿舍卫生责任到人，每周总结评比。</tspan></text>
</g>
<g id="b2-7-2">
<polygon class="no" points="1990,1427 2227,1427 2233,1463.5 2227,1500 1990,1500 1984,1463.5"/>
<text class="to" y="1445.6"><tspan x="1989">2、"三比"活动，比纪律、比卫生、比学习，</tspan><tspan x="1989" dy="15.4">每周比一比组的纪律、卫生、学习，哪组的最</tspan><tspan x="1989" dy="15.4">好，作出总结，指出不足，加以改进，争取先</tspan><tspan x="1989" dy="15.4">进。</tspan></text>
</g>
<g id="b2-7-3">
<polygon class="no" points="1990,1526 2227,1526 2233,1547 2227,1568 1990,1568 1984,1547"/>
<text class="to" y="1544.6"><tspan x="1989">3、"献爱心"，为他人做一件你认为最有意义</tspan><tspan x="1989" dy="15.4">的事，体会助人为乐的快乐感。</tspan></text>
</g>
<g id="b2-7-4">
<polygon class="no" points="1990,1594 2227,1594 2233,1631 2227,1668 1990,1668 1984,1631"/>
<text class="to" y="1614"><tspan x="1989">4、比先进，看谁的进步最大，通过前几周的</tspan><tspan x="1989" dy="15.4">比、学、赶、帮、超活动的开展，让同学们评</tspan><tspan x="1989" dy="15.4">出谁是班里最先进者，谁进步最快，树立典型</tspan><tspan x="1989" dy="15.4">。</tspan></text>
</g>
<g id="b2-7-5">
<polygon class="no" points="1990,1692 2227,1692 2233,1722 2227,1752 1990,1752 1984,1722"/>
<text class="to" y="1712.5"><tspan x="1989">5、小组总结评比，总结一学期来班级各小组</tspan><tspan x="1989" dy="15.4">工作优点和不足，提出改进的措施和今后努力</tspan><tspan x="1989" dy="15.4">的方向。</tspan></text>
</g>
<g id="b2-7-5-1">
<polygon class="no" points="2261,1695 2500,1695 2506,1723.5 2500,1752 2261,1752 2255,1723.5"/>
<text class="to" y="1712.4"><tspan x="2260">以上是我为xx班做的20xx最新学年第二学期</tspan><tspan x="2260" dy="15.4">的班主任计划，希望能充分发挥班主任的教育</tspan><tspan x="2260" dy="15.4">作用，引到学生的健康成长！</tspan></text>
</g>

<g id="b4">
<rect x="1305" y="2517" width="251" height="52" rx="4" fill="#b4379e" stroke="#dc8ccb" stroke-width="1"/>
<text class="main" y="2538"><tspan x="1311">六年级班主任工作计划2022第二学</tspan><tspan x="1311" dy="20">期（四）</tspan></text>
</g>
<g id="b4-0">
<polygon class="nk" points="1586,1778 1823,1778 1829,1822.5 1823,1867 1586,1867 1580,1822.5"/>
<text class="tk" y="1796.9"><tspan x="1585">本学期我将继续担任xx班的班主任工作。上</tspan><tspan x="1585" dy="15.5">学期，通过班规的实施、星级作业评比，学生</tspan><tspan x="1585" dy="15.5">的进步明显，在这一学期里，为了使学生取得</tspan><tspan x="1585" dy="15.5">更加大的进步，为了让班级充满活力与创新，</tspan><tspan x="1585" dy="15.5">我制定了一系列的工作计划。</tspan></text>
</g>
<g id="b4-1">
<polygon class="nk" points="1585,1963 1656,1963 1662,1976 1656,1989 1585,1989 1579,1976"/>
<text class="tk" x="1585" y="1980.4">一、学情分析</text>
</g>
<g id="b4-1-t">
<polygon class="nk" points="1691,1893 1929,1893 1935,1976 1929,2059 1691,2059 1685,1976"/>
<text class="tk" y="1911.6"><tspan x="1690">本班工作xx个学生，其中女生xx人，男生xx</tspan><tspan x="1690" dy="15.44">人。通过上学期的学习，班里大部分学生能够</tspan><tspan x="1690" dy="15.44">做到上课认真听讲，遵守各项纪律，部分班干</tspan><tspan x="1690" dy="15.44">部在学习和表现中能够成为学生们的榜样。但</tspan><tspan x="1690" dy="15.44">是，还是有部分学生没有养成良好地学习习惯</tspan><tspan x="1690" dy="15.44">，学习的目标不明确，尤其是个别男同学，上</tspan><tspan x="1690" dy="15.44">课精力不集中，纪律涣散，作业欠交、迟交现</tspan><tspan x="1690" dy="15.44">象严重。所以，针对这些情况，我把重点落在</tspan><tspan x="1690" dy="15.44">学习习惯和生活习惯的培养上，正确让每一个</tspan><tspan x="1690" dy="15.44">学生都能够取得进步。</tspan></text>
</g>
<g id="b4-2">
<polygon class="nk" points="1585,2185 1656,2185 1662,2198 1656,2211 1585,2211 1579,2198"/>
<text class="tk" x="1585" y="2202.4">二、常规教育</text>
</g>
<g id="b4-2-1">
<polygon class="nk" points="1691,2086 1929,2086 1935,2137.5 1929,2189 1691,2189 1685,2137.5"/>
<text class="tk" y="2102.8"><tspan x="1690">1、充分利用班队会的时间学习良好的生活及</tspan><tspan x="1690" dy="15.6">学习习惯，并在日常学习的过程中让学生知道</tspan><tspan x="1690" dy="15.6">什么行为是对的，什么是不对的，使学生养成</tspan><tspan x="1690" dy="15.6">良好的学习和生活习惯。如：见师长热情问好</tspan><tspan x="1690" dy="15.6">，上下楼梯学会礼让。教给学生待人接物的基</tspan><tspan x="1690" dy="15.6">本礼仪。</tspan></text>
</g>
<g id="b4-2-2">
<polygon class="nk" points="1691,2216 1929,2216 1935,2259.5 1929,2303 1691,2303 1685,2259.5"/>
<text class="tk" y="2233.4"><tspan x="1690">2、充分发挥各项活动中的教育阵地的作用，</tspan><tspan x="1690" dy="15.4">增强学生的荣誉感，使学生心中有他人，有集</tspan><tspan x="1690" dy="15.4">体。比如：可以利用品德课对学生进行思想行</tspan><tspan x="1690" dy="15.4">为教育。，通过各种方式进一步规范学生的行</tspan><tspan x="1690" dy="15.4">为习惯。</tspan></text>
</g>
<g id="b4-3">
<polygon class="nk" points="1585,2492 1656,2492 1662,2504 1656,2516 1585,2516 1579,2504"/>
<text class="tk" x="1585" y="2508.4">三、班级纪律</text>
</g>
<g id="b4-3-1">
<polygon class="nk" points="1691,2377 1769,2377 1775,2389.5 1769,2402 1691,2402 1685,2389.5"/>
<text class="tk" x="1691" y="2393.9">1、课堂纪律。</text>
</g>
<g id="b4-3-1-t">
<polygon class="nk" points="1806,2330 2044,2330 2050,2389 2044,2448 1806,2448 1800,2389"/>
<text class="tk" y="2348.2"><tspan x="1805">利用自习和班队会等时间师生共同制定班规班</tspan><tspan x="1805" dy="15.25">纪，并制定相应的奖惩办法。这样学生既感到</tspan><tspan x="1805" dy="15.25">有努力目标，又有约束力，而且可以在不知不</tspan><tspan x="1805" dy="15.25">觉中遵守纪律。由于是孩子们自己制定的，这</tspan><tspan x="1805" dy="15.25">样变被动的各种要求为主动的行为，有助于学</tspan><tspan x="1805" dy="15.25">生将文字内化为行为。我们班的宗旨是＂说到</tspan><tspan x="1805" dy="15.25">做到，言行一致。＂</tspan></text>
</g>
<g id="b4-3-2">
<polygon class="nk" points="1691,2506 1769,2506 1775,2518.5 1769,2531 1691,2531 1685,2518.5"/>
<text class="tk" x="1691" y="2522.9">2、课间纪律。</text>
</g>
<g id="b4-3-2-t">
<polygon class="nk" points="1806,2475 2044,2475 2050,2519.5 2044,2564 1806,2564 1800,2519.5"/>
<text class="tk" y="2493.4"><tspan x="1805">课间是学生轻松休息的时间，良好的课间纪律</tspan><tspan x="1805" dy="15.55">将会给整个校园带来活跃而轻松的气氛。然而</tspan><tspan x="1805" dy="15.55">，丰富多彩的课间活动，就是解决课间纪律乱</tspan><tspan x="1805" dy="15.55">的法宝。使学生既健体又受教育，同时，随时</tspan><tspan x="1805" dy="15.55">提醒学生要注意文明活动，寓教于乐。</tspan></text>
</g>
<g id="b4-3-3">
<polygon class="nk" points="1691,2606 1769,2606 1775,2618.5 1769,2631 1691,2631 1685,2618.5"/>
<text class="tk" x="1691" y="2622.9">3、出操纪律。</text>
</g>
<g id="b4-3-3-t">
<polygon class="nk" points="1806,2591 2044,2591 2050,2619.5 2044,2648 1806,2648 1800,2619.5"/>
<text class="tk" y="2607.9"><tspan x="1805">为了让学生养成良好的行为习惯，适应集体生</tspan><tspan x="1805" dy="15.4">活，要求学生做到不仅做到快，齐，静，而且</tspan><tspan x="1805" dy="15.4">能够进行自主管理。</tspan></text>
</g>
<g id="b4-4">
<polygon class="nk" points="1585,2725 1633,2725 1639,2737.5 1633,2750 1585,2750 1579,2737.5"/>
<text class="tk" x="1585" y="2741.9">四、卫生</text>
</g>
<g id="b4-4-1">
<polygon class="nk" points="1668,2676 1906,2676 1912,2695.5 1906,2715 1668,2715 1662,2695.5"/>
<text class="tk" y="2691.4"><tspan x="1667">1、个人卫生：要求衣着整洁，常剪指甲，饭</tspan><tspan x="1667" dy="15.8">前便后洗手。</tspan></text>
</g>
<g id="b4-4-2">
<polygon class="nk" points="1668,2743 1906,2743 1912,2779 1906,2815 1668,2815 1662,2779"/>
<text class="tk" y="2759.6"><tspan x="1667">2、班级卫生：每天分派一次值日生清扫，在</tspan><tspan x="1667" dy="15.7">班级推选出"卫生监督岗"，进行检查与监督。</tspan><tspan x="1667" dy="15.7">对于积极主打扫卫生的同学或小组，进行奖励</tspan><tspan x="1667" dy="15.7">。同时进行爱护环境和花草的教育。</tspan></text>
</g>
<g id="b4-5">
<polygon class="nk" points="1585,2881 1679,2881 1685,2893.5 1679,2906 1585,2906 1579,2893.5"/>
<text class="tk" x="1585" y="2897.9">五、班干部的培养</text>
</g>
<g id="b4-5-t">
<polygon class="nk" points="1716,2842 1949,2842 1955,2894 1949,2946 1716,2946 1710,2894"/>
<text class="tk" y="2859.1"><tspan x="1715">班级管理光靠班主任一人来管理是不够的，而</tspan><tspan x="1715" dy="15.6">班干部却是班级管理的小助手。这学期我仍将</tspan><tspan x="1715" dy="15.6">延续上学期的班干部制度，培养做事认真有责</tspan><tspan x="1715" dy="15.6">任性的人，使他们学会学习，学会生活，学会</tspan><tspan x="1715" dy="15.6">合作和学会管理。齐心协力搞好工作，建立一</tspan><tspan x="1715" dy="15.6">个积极向上，朝气蓬勃的班集体。</tspan></text>
</g>
<g id="b4-6">
<polygon class="nk" points="1585,3004 1679,3004 1685,3016.5 1679,3029 1585,3029 1579,3016.5"/>
<text class="tk" x="1585" y="3020.9">六、加强家校联系</text>
</g>
<g id="b4-6-t">
<polygon class="nk" points="1716,2973 1949,2973 1955,3017 1949,3061 1716,3061 1710,3017"/>
<text class="tk" y="2991"><tspan x="1715">孩子的成长离不开老师，也离不开家长，本着</tspan><tspan x="1715" dy="15.1">这一原则，我要多和家长沟通，共同探讨对孩</tspan><tspan x="1715" dy="15.1">子的教育，对于孩子的优点和缺点，既不夸大</tspan><tspan x="1715" dy="15.1">，也不缩小，采取实事求是的态度，使孩子在</tspan><tspan x="1715" dy="15.1">校内和校外都能得到良好的发展和教育。</tspan></text>
</g>
<g id="b4-7">
<polygon class="nk" points="1585,3254 1656,3254 1662,3267.5 1656,3281 1585,3281 1579,3267.5"/>
<text class="tk" x="1585" y="3271.9">七、班级活动</text>
</g>
<g id="b4-7-1">
<polygon class="nk" points="1691,3086 1929,3086 1935,3107.5 1929,3129 1691,3129 1685,3107.5"/>
<text class="tk" y="3105.4"><tspan x="1690">1、读书月活动：响应学校号召，开展读书共</tspan><tspan x="1690" dy="15.4">享活动。</tspan></text>
</g>
<g id="b4-7-2">
<polygon class="nk" points="1691,3155 1929,3155 1935,3176.5 1929,3198 1691,3198 1685,3176.5"/>
<text class="tk" y="3173.7"><tspan x="1690">2、数学速算活动：与数学科任合作，坚持搞</tspan><tspan x="1690" dy="15.4">好数学速算活动。</tspan></text>
</g>
<g id="b4-7-3">
<polygon class="nk" points="1691,3223 1929,3223 1935,3244.5 1929,3266 1691,3266 1685,3244.5"/>
<text class="tk" y="3242.7"><tspan x="1690">3、集体跳活动：利用体育课，依据上学期的</tspan><tspan x="1690" dy="15.4">分组，继续集体跳。</tspan></text>
</g>
<g id="b4-7-4">
<polygon class="nk" points="1691,3292 1929,3292 1935,3313 1929,3334 1691,3334 1685,3313"/>
<text class="tk" y="3310.4"><tspan x="1690">4、每月评选：每月设立一个主题，进行评选</tspan><tspan x="1690" dy="15.4">。</tspan></text>
</g>
<g id="b4-7-5">
<polygon class="nk" points="1691,3414 1913,3414 1919,3427.5 1913,3441 1691,3441 1685,3427.5"/>
<text class="tk" x="1690" y="3432.5">5、墙报小当家：延续上学期出墙报制度。</text>
</g>
<g id="b4-7-5-1">
<polygon class="nk" points="1953,3361 2180,3361 2186,3427.5 2180,3494 1953,3494 1947,3427.5"/>
<text class="tk" y="3378.7"><tspan x="1952">总而言之，"给孩子们一个金色的童年。"本着</tspan><tspan x="1952" dy="15.4">这个宗旨我一定会用心去和学生交流，用欣赏</tspan><tspan x="1952" dy="15.4">的眼光寻找孩子身上的每一处闪光点。我相信</tspan><tspan x="1952" dy="15.4">：只要关爱孩子，尊重孩子，宽容孩子，我们</tspan><tspan x="1952" dy="15.4">就能找到开启学生心灵的钥匙。上述措施只是</tspan><tspan x="1952" dy="15.4">我对班级本学期的初步打算，在今后的工作中</tspan><tspan x="1952" dy="15.4">，我将不断地加以改进。若有不足之处，发现</tspan><tspan x="1952" dy="15.4">后会及时纠正。</tspan></text>
</g>

<g id="watermarks">
<text class="wm" transform="translate(370,700) rotate(-36)">树图 shutu.cn</text>
<text class="wm" transform="translate(360,1690) rotate(-36)">树图 shutu.cn</text>
<text class="wm" transform="translate(355,2695) rotate(-36)">树图 shutu.cn</text>
<text class="wm" transform="translate(410,3515) rotate(-36)">树图 shutu.cn</text>
<text class="wm" transform="translate(1670,635) rotate(-36)">树图 shutu.cn</text>
<text class="wm" transform="translate(1670,1640) rotate(-36)">树图 shutu.cn</text>
<text class="wm" transform="translate(1630,2690) rotate(-36)">树图 shutu.cn</text>
<text class="wm" transform="translate(1700,3515) rotate(-36)">树图 shutu.cn</text>
</g>
</svg>
